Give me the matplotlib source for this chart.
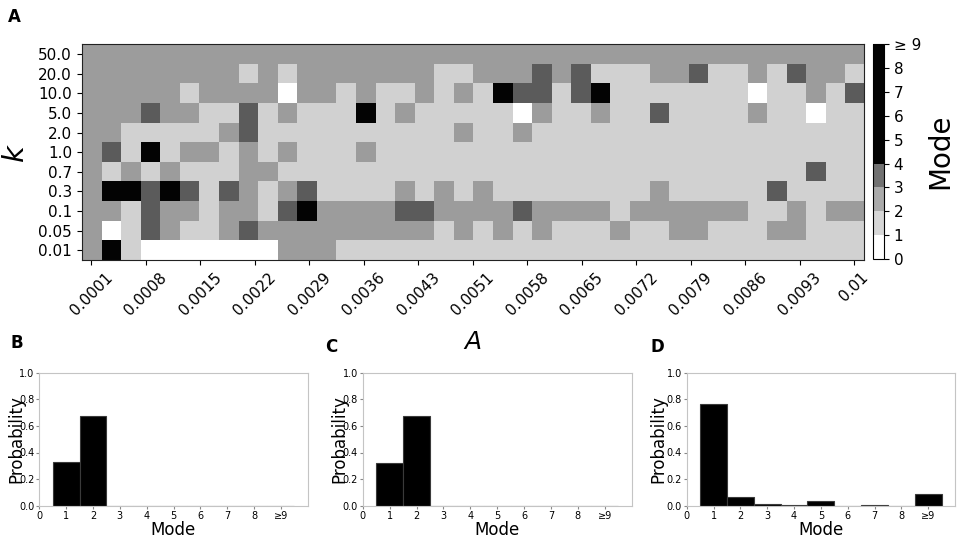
import numpy as np
import matplotlib
matplotlib.use('Agg')
import matplotlib.pyplot as plt
from matplotlib.colors import ListedColormap, BoundaryNorm
from matplotlib.cm import ScalarMappable

# k values (rows, top to bottom) and A tick labels
k_labels = ['50.0', '20.0', '10.0', '5.0', '2.0', '1.0', '0.7', '0.3', '0.1', '0.05', '0.01']
a_labels = ['0.0001', '0.0008', '0.0015', '0.0022', '0.0029', '0.0036', '0.0043', '0.0051',
            '0.0058', '0.0065', '0.0072', '0.0079', '0.0086', '0.0093', '0.01']

# mode of each (k, A) cell, 11 rows x 40 columns (5 = ">= 4", drawn black)
modes = [
    [2, 2, 2, 2, 2, 2, 2, 2, 2, 2, 2, 2, 2, 2, 2, 2, 2, 2, 2, 2, 2, 2, 2, 2, 2, 2, 2, 2, 2, 2, 2, 2, 2, 2, 2, 2, 2, 2, 2, 2],
    [2, 2, 2, 2, 2, 2, 2, 2, 1, 2, 1, 2, 2, 2, 2, 2, 2, 2, 1, 1, 2, 2, 2, 3, 2, 3, 1, 1, 1, 2, 2, 3, 1, 1, 2, 1, 3, 2, 2, 1],
    [2, 2, 2, 2, 2, 1, 2, 2, 2, 2, 0, 2, 2, 1, 2, 1, 1, 2, 1, 2, 1, 5, 3, 3, 1, 3, 5, 1, 1, 1, 1, 1, 1, 1, 0, 1, 1, 2, 1, 3],
    [2, 2, 2, 3, 2, 2, 1, 1, 3, 1, 2, 1, 1, 1, 5, 1, 2, 1, 1, 1, 1, 1, 0, 2, 1, 1, 2, 1, 1, 3, 1, 1, 1, 1, 2, 1, 1, 0, 1, 1],
    [2, 2, 1, 1, 1, 1, 1, 2, 3, 1, 1, 1, 1, 1, 1, 1, 1, 1, 1, 2, 1, 1, 2, 1, 1, 1, 1, 1, 1, 1, 1, 1, 1, 1, 1, 1, 1, 1, 1, 1],
    [2, 3, 1, 5, 1, 2, 2, 1, 2, 1, 2, 1, 1, 1, 2, 1, 1, 1, 1, 1, 1, 1, 1, 1, 1, 1, 1, 1, 1, 1, 1, 1, 1, 1, 1, 1, 1, 1, 1, 1],
    [2, 1, 2, 1, 2, 1, 1, 1, 2, 2, 1, 1, 1, 1, 1, 1, 1, 1, 1, 1, 1, 1, 1, 1, 1, 1, 1, 1, 1, 1, 1, 1, 1, 1, 1, 1, 1, 3, 1, 1],
    [2, 5, 5, 3, 5, 3, 1, 3, 2, 1, 2, 3, 1, 1, 1, 1, 2, 1, 2, 1, 2, 1, 1, 1, 1, 1, 1, 1, 1, 2, 1, 1, 1, 1, 1, 3, 1, 1, 1, 1],
    [2, 2, 1, 3, 2, 2, 1, 2, 2, 1, 3, 5, 2, 2, 2, 2, 3, 3, 2, 2, 2, 2, 3, 2, 2, 2, 2, 1, 2, 2, 2, 2, 2, 2, 1, 1, 2, 1, 2, 2],
    [2, 0, 1, 3, 2, 1, 1, 2, 3, 2, 2, 2, 2, 2, 2, 2, 2, 2, 1, 2, 1, 2, 1, 2, 1, 1, 1, 2, 1, 1, 2, 2, 1, 1, 1, 2, 2, 1, 1, 1],
    [2, 5, 1, 0, 0, 0, 0, 0, 0, 0, 2, 2, 2, 1, 1, 1, 1, 1, 1, 1, 1, 1, 1, 1, 1, 1, 1, 1, 1, 1, 1, 1, 1, 1, 1, 1, 1, 1, 1, 1],
]

# histogram panels B, C, D: probability of each mode (1..8, >=9)
hist_modes = [1, 2, 3, 4, 5, 6, 7, 8, 9]
prob_b = [0.325, 0.672, 0, 0, 0, 0, 0, 0, 0]
prob_c = [0.322, 0.676, 0, 0, 0, 0, 0, 0, 0]
prob_d = [0.765, 0.062, 0.013, 0.006, 0.037, 0, 0.006, 0, 0.09]
hist_ticks = ['0', '1', '2', '3', '4', '5', '6', '7', '8', '≥9']
cbar_ticks = ['0', '1', '2', '3', '4', '5', '6', '7', '8', '≥ 9']

W, H = 960, 537
fig = plt.figure(figsize=(W / 100, H / 100), dpi=100)


def box(x0, y0, x1, y1):
    return [x0 / W, 1 - y1 / H, (x1 - x0) / W, (y1 - y0) / H]


# --- panel A: heatmap ---
bounds = [0, 1, 2, 3, 4, 9]
cmap = ListedColormap(['#ffffff', '#d1d1d1', '#9c9c9c', '#5b5b5b', '#030303'])
cbar_cmap = ListedColormap(['#ffffff', '#d6d6d6', '#aaaaaa', '#717171', '#030303'])
norm = BoundaryNorm(bounds, 5)

ax = fig.add_axes(box(81.7, 44.3, 863.9, 260))
ax.imshow(np.array(modes), cmap=cmap, norm=norm, aspect='auto', interpolation='nearest')
ax.set_yticks(range(len(k_labels)))
ax.set_yticklabels(k_labels, fontsize=11)
ax.set_xticks(np.linspace(0, len(modes[0]) - 1, len(a_labels)))
ax.set_xticklabels(a_labels, fontsize=11, rotation=45)
ax.set_ylabel('k', fontsize=21, fontstyle='italic', labelpad=7)
ax.set_xlabel('A', fontsize=18, fontstyle='italic', labelpad=9)
for s in ax.spines.values():
    s.set_color('#222222')

cax = fig.add_axes(box(873, 44.3, 884, 259))
sm = ScalarMappable(norm=norm, cmap=cbar_cmap)
cb = fig.colorbar(sm, cax=cax, ticks=range(10), spacing='proportional')
cb.ax.set_yticklabels(cbar_ticks, fontsize=11)
cb.set_label('Mode', fontsize=20)
cb.outline.set_linewidth(0.8)

# --- panels B, C, D: histograms ---
panels = [
    (prob_b, box(39.3, 372.7, 307.7, 505.7), -0.053),
    (prob_c, box(362.7, 372.7, 631.7, 505.7), -0.053),
    (prob_d, box(686.7, 372.7, 955, 505.7), -0.073),
]
for probs, rect, lx in panels:
    hx = fig.add_axes(rect)
    hx.bar(hist_modes, probs, width=1, color='black', edgecolor='#3a3a3a', linewidth=0.8)
    hx.set_xlim(0, 10)
    hx.set_ylim(0, 1)
    hx.set_xticks(range(10))
    hx.set_xticklabels(hist_ticks)
    hx.set_yticks([0, 0.2, 0.4, 0.6, 0.8, 1.0])
    hx.set_yticklabels(['0.0', '0.2', '0.4', '0.6', '0.8', '1.0'])
    hx.tick_params(labelsize=7, length=2, pad=1.5, color='#888888')
    for s in hx.spines.values():
        s.set_color('#c4c4c4')
    hx.set_xlabel('Mode', fontsize=12, labelpad=0)
    hx.set_ylabel('Probability', fontsize=12)
    hx.yaxis.set_label_coords(lx, 0.5)

# panel letters
fig.text(8 / W, 1 - 22 / H, 'A', fontsize=12, fontweight='bold')
fig.text(10 / W, 1 - 348 / H, 'B', fontsize=12, fontweight='bold')
fig.text(325 / W, 1 - 352 / H, 'C', fontsize=12, fontweight='bold')
fig.text(651 / W, 1 - 352 / H, 'D', fontsize=12, fontweight='bold')

fig.savefig('out.png', dpi=100)
